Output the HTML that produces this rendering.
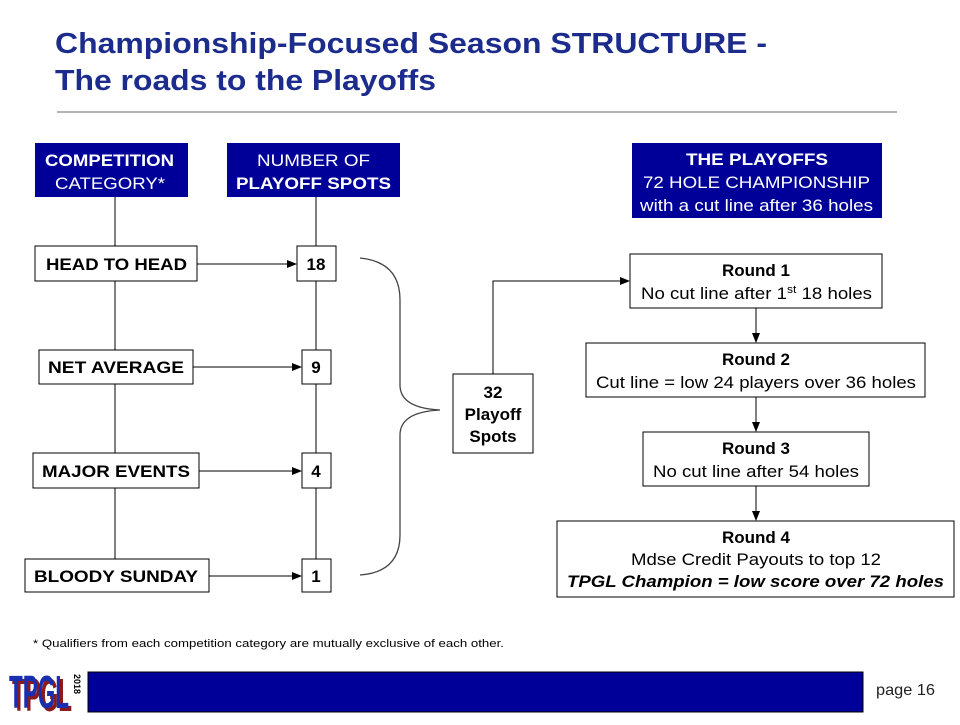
<!DOCTYPE html>
<html><head><style>
body{margin:0;width:960px;height:720px;background:#fff;overflow:hidden;font-family:"Liberation Sans",Arial,sans-serif}
</style></head><body>
<svg width="960" height="720" xmlns="http://www.w3.org/2000/svg" font-family="Liberation Sans, Arial, sans-serif">
<defs><marker id="a" markerWidth="10" markerHeight="8" refX="9" refY="4" orient="auto" markerUnits="userSpaceOnUse"><path d="M0,0 L10,4 L0,8 z" fill="#000"/></marker></defs>
<g lengthAdjust="spacingAndGlyphs">
<text x="55" y="53" font-size="29" font-weight="bold" fill="#1c2c8c" textLength="712" lengthAdjust="spacingAndGlyphs">Championship-Focused Season STRUCTURE -</text>
<text x="55" y="90" font-size="29" font-weight="bold" fill="#1c2c8c" textLength="381" lengthAdjust="spacingAndGlyphs">The roads to the Playoffs</text>
</g>
<line x1="57" y1="112" x2="897" y2="112" stroke="#666" stroke-width="1"/>
<line x1="115" y1="197" x2="115" y2="560" stroke="#000"/>
<line x1="316" y1="197" x2="316" y2="560" stroke="#000"/>
<rect x="35" y="143" width="153" height="54" fill="#000099"/>
<text x="45" y="166" font-size="17" font-weight="bold" fill="#fff" textLength="129" lengthAdjust="spacingAndGlyphs">COMPETITION</text>
<text x="55" y="189" font-size="17" fill="#fff" textLength="110" lengthAdjust="spacingAndGlyphs">CATEGORY*</text>
<rect x="227" y="143" width="173" height="54" fill="#000099"/>
<text x="257" y="166" font-size="17" fill="#fff" textLength="113" lengthAdjust="spacingAndGlyphs">NUMBER OF</text>
<text x="236" y="189" font-size="17" font-weight="bold" fill="#fff" textLength="155" lengthAdjust="spacingAndGlyphs">PLAYOFF SPOTS</text>
<rect x="632" y="143" width="250" height="75" fill="#000099"/>
<text x="686" y="165" font-size="17" font-weight="bold" fill="#fff" textLength="142" lengthAdjust="spacingAndGlyphs">THE PLAYOFFS</text>
<text x="643" y="188" font-size="17" fill="#fff" textLength="227" lengthAdjust="spacingAndGlyphs">72 HOLE CHAMPIONSHIP</text>
<text x="640" y="211" font-size="17" fill="#fff" textLength="233" lengthAdjust="spacingAndGlyphs">with a cut line after 36 holes</text>
<g stroke="#000" fill="#fff">
<rect x="35" y="246" width="162" height="35"/><rect x="297" y="246" width="39" height="35"/>
<rect x="39" y="350" width="154" height="34"/><rect x="302" y="350" width="29" height="34"/>
<rect x="33" y="453" width="166" height="35"/><rect x="302" y="453" width="29" height="35"/>
<rect x="25" y="559" width="184" height="33"/><rect x="302" y="559" width="29" height="33"/>
</g>
<g stroke="#000" marker-end="url(#a)">
<line x1="197" y1="264" x2="296" y2="264"/>
<line x1="193" y1="367" x2="301" y2="367"/>
<line x1="199" y1="471" x2="301" y2="471"/>
<line x1="209" y1="576" x2="301" y2="576"/>
</g>
<g font-size="17" font-weight="bold">
<text x="46" y="270" textLength="141" lengthAdjust="spacingAndGlyphs">HEAD TO HEAD</text><text x="316" y="270" text-anchor="middle">18</text>
<text x="48" y="373" textLength="136" lengthAdjust="spacingAndGlyphs">NET AVERAGE</text><text x="316" y="373" text-anchor="middle">9</text>
<text x="42" y="477" textLength="148" lengthAdjust="spacingAndGlyphs">MAJOR EVENTS</text><text x="316" y="477" text-anchor="middle">4</text>
<text x="34" y="582" textLength="164" lengthAdjust="spacingAndGlyphs">BLOODY SUNDAY</text><text x="316" y="582" text-anchor="middle">1</text>
</g>
<path d="M360,258 Q400,262 400,300 L400,385 Q400,408 440,410 Q400,412 400,435 L400,535 Q400,572 360,575" fill="none" stroke="#444" stroke-width="1.3"/>
<rect x="453" y="374" width="80" height="79" fill="#fff" stroke="#000"/>
<g font-size="17" font-weight="bold" text-anchor="middle"><text x="493" y="398">32</text><text x="493" y="420">Playoff</text><text x="493" y="442">Spots</text></g>
<polyline points="493,374 493,281 629,281" fill="none" stroke="#000" marker-end="url(#a)"/>
<g stroke="#000" fill="#fff">
<rect x="630" y="254" width="252" height="54"/>
<rect x="586" y="343" width="339" height="54"/>
<rect x="643" y="432" width="226" height="54"/>
<rect x="557" y="521" width="397" height="76"/>
</g>
<g stroke="#000" marker-end="url(#a)">
<line x1="756" y1="308" x2="756" y2="342"/>
<line x1="756" y1="397" x2="756" y2="431"/>
<line x1="756" y1="486" x2="756" y2="520"/>
</g>
<g font-size="17">
<text x="756" y="276" font-weight="bold" text-anchor="middle">Round 1</text>
<text x="641" y="299" textLength="231" lengthAdjust="spacingAndGlyphs">No cut line after 1<tspan font-size="11" dy="-6">st</tspan><tspan dy="6"> 18 holes</tspan></text>
<text x="756" y="365" font-weight="bold" text-anchor="middle">Round 2</text>
<text x="596" y="388" textLength="320" lengthAdjust="spacingAndGlyphs">Cut line = low 24 players over 36 holes</text>
<text x="756" y="454" font-weight="bold" text-anchor="middle">Round 3</text>
<text x="653" y="477" textLength="206" lengthAdjust="spacingAndGlyphs">No cut line after 54 holes</text>
<text x="756" y="543" font-weight="bold" text-anchor="middle">Round 4</text>
<text x="631" y="565" textLength="250" lengthAdjust="spacingAndGlyphs">Mdse Credit Payouts to top 12</text>
<text x="567" y="587" font-weight="bold" font-style="italic" textLength="377" lengthAdjust="spacingAndGlyphs">TPGL Champion = low score over 72 holes</text>
</g>
<text x="33" y="647" font-size="11" textLength="471" lengthAdjust="spacingAndGlyphs">* Qualifiers from each competition category are mutually exclusive of each other.</text>
<text x="12" y="711" font-size="46" font-weight="bold" fill="#8b1a1a" textLength="60" lengthAdjust="spacingAndGlyphs">TPGL</text>
<text x="9" y="708" font-size="46" font-weight="bold" fill="#1a2fb0" textLength="60" lengthAdjust="spacingAndGlyphs">TPGL</text>
<text x="0" y="0" font-size="9" font-weight="bold" transform="translate(74,674) rotate(90)">2018</text>
<rect x="88" y="672" width="775" height="40" fill="#000099" stroke="#000"/>
<text x="876" y="695" font-size="16" fill="#222" textLength="59" lengthAdjust="spacingAndGlyphs">page 16</text>
</svg>
</body></html>
